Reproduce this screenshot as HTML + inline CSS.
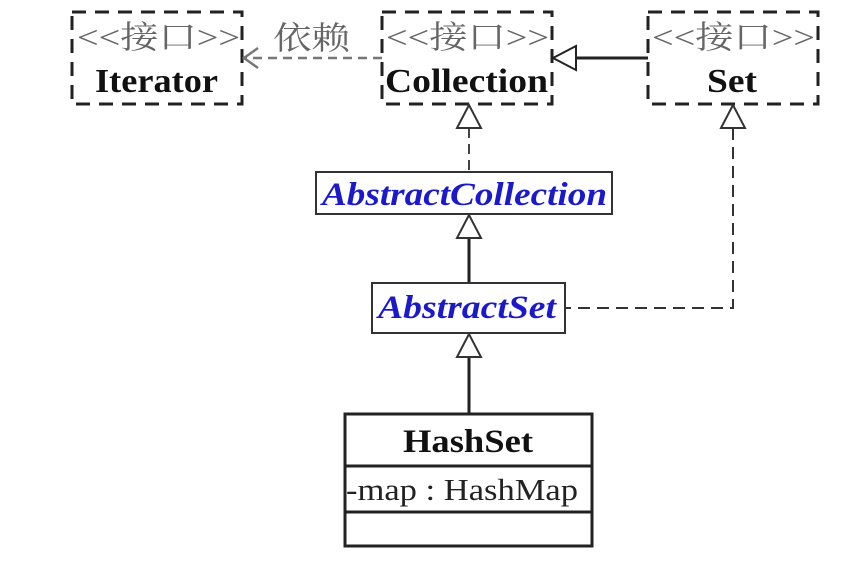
<!DOCTYPE html>
<html><head><meta charset="utf-8"><style>
body{margin:0;background:#fff;width:866px;height:570px;overflow:hidden}
</style></head><body>
<svg width="866" height="570" xmlns="http://www.w3.org/2000/svg" font-family="'Liberation Serif','Noto Serif CJK SC',serif">
<g fill="none" stroke="#222" stroke-width="3" stroke-dasharray="14,9">
<rect x="72" y="12" width="170" height="92"/>
<rect x="382" y="12" width="170" height="92"/>
<rect x="648" y="12" width="170" height="92"/>
</g>
<g font-size="32" fill="#666">
<text x="77" y="48" textLength="163" lengthAdjust="spacingAndGlyphs">&lt;&lt;接口&gt;&gt;</text>
<text x="386" y="48" textLength="163" lengthAdjust="spacingAndGlyphs">&lt;&lt;接口&gt;&gt;</text>
<text x="652" y="48" textLength="163" lengthAdjust="spacingAndGlyphs">&lt;&lt;接口&gt;&gt;</text>
<text x="273" y="49" textLength="77" lengthAdjust="spacingAndGlyphs">依赖</text>
</g>
<g font-size="34" font-weight="bold" fill="#111">
<text x="95" y="92" textLength="123" lengthAdjust="spacingAndGlyphs">Iterator</text>
<text x="385" y="92" textLength="163" lengthAdjust="spacingAndGlyphs">Collection</text>
<text x="707" y="92" textLength="50" lengthAdjust="spacingAndGlyphs">Set</text>
</g>
<line x1="382" y1="58" x2="244" y2="58" stroke="#777" stroke-width="2.5" stroke-dasharray="9,6"/>
<polyline points="258,48 244,58 258,68" fill="none" stroke="#777" stroke-width="2.5"/>
<line x1="575" y1="58" x2="648" y2="58" stroke="#222" stroke-width="3"/>
<polygon points="553,58 576,46 576,70" fill="#fff" stroke="#222" stroke-width="2"/>
<rect x="316" y="172" width="296" height="42" fill="#fff" stroke="#333" stroke-width="2"/>
<text x="322" y="205" font-size="33" font-weight="bold" font-style="italic" fill="#1a1acc" textLength="285" lengthAdjust="spacingAndGlyphs">AbstractCollection</text>
<line x1="469" y1="128" x2="469" y2="172" stroke="#444" stroke-width="2" stroke-dasharray="10,6"/>
<polygon points="469,105 457,128 481,128" fill="#fff" stroke="#333" stroke-width="2"/>
<line x1="469" y1="238" x2="469" y2="283" stroke="#222" stroke-width="3"/>
<polygon points="469,215 457,238 481,238" fill="#fff" stroke="#333" stroke-width="2"/>
<polyline points="733,128 733,308 566,308" fill="none" stroke="#333" stroke-width="2" stroke-dasharray="12,7"/>
<polygon points="733,105 721,128 745,128" fill="#fff" stroke="#333" stroke-width="2"/>
<rect x="372" y="283" width="193" height="50" fill="#fff" stroke="#333" stroke-width="2"/>
<text x="378" y="318" font-size="33" font-weight="bold" font-style="italic" fill="#1a1acc" textLength="178" lengthAdjust="spacingAndGlyphs">AbstractSet</text>
<line x1="469" y1="357" x2="469" y2="414" stroke="#222" stroke-width="3"/>
<polygon points="469,334 457,357 481,357" fill="#fff" stroke="#333" stroke-width="2"/>
<rect x="345" y="414" width="247" height="132" fill="#fff" stroke="#222" stroke-width="3"/>
<line x1="345" y1="466" x2="592" y2="466" stroke="#222" stroke-width="3"/>
<line x1="345" y1="512" x2="592" y2="512" stroke="#222" stroke-width="3"/>
<text x="403" y="452" font-size="33" font-weight="bold" fill="#111" textLength="130" lengthAdjust="spacingAndGlyphs">HashSet</text>
<text x="346" y="500" font-size="31" fill="#222" textLength="232" lengthAdjust="spacingAndGlyphs">-map : HashMap</text>
</svg>
</body></html>
